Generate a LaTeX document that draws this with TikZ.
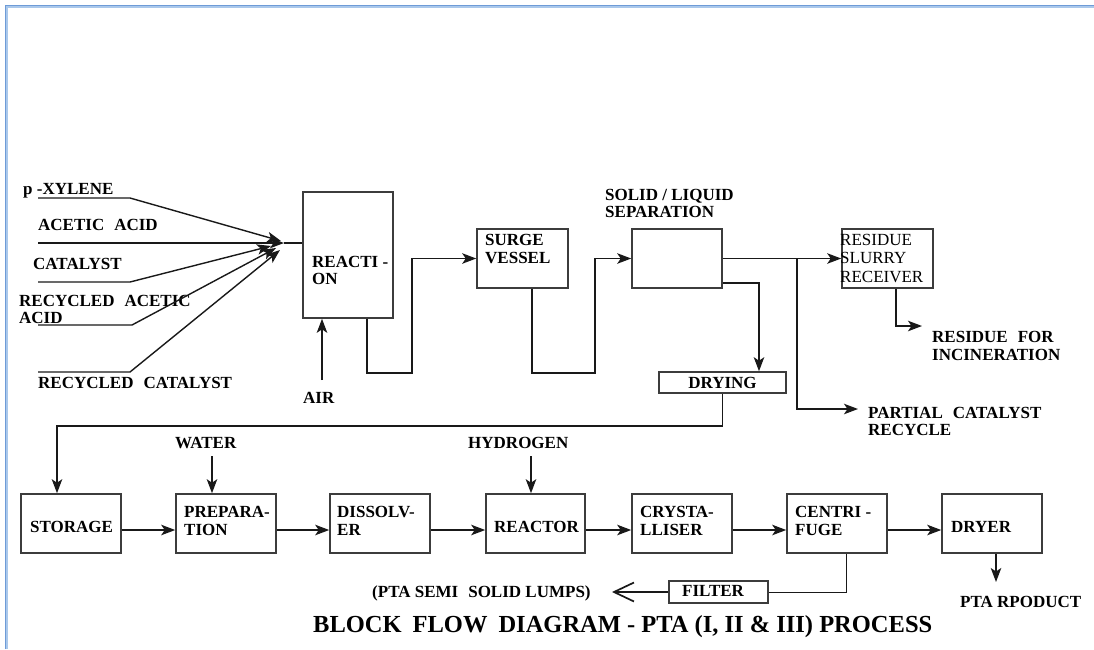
\documentclass[tikz,border=0pt]{standalone}
\usepackage{fontspec}
\setmainfont{Liberation Serif}
\usetikzlibrary{arrows.meta}
\definecolor{boxc}{RGB}{60,60,60}
\definecolor{linec}{RGB}{25,25,25}
\definecolor{framec}{RGB}{110,155,215}
\definecolor{framel}{RGB}{170,200,235}
\newcommand{\lblfont}{\fontsize{17pt}{17pt}\selectfont\bfseries}
\newcommand{\regfont}{\fontsize{17pt}{17pt}\selectfont}
\newcommand{\ttlfont}{\fontsize{24.5pt}{24.5pt}\selectfont\bfseries}
\newcommand{\wsp}{\hspace{10pt}}
\begin{document}
\begin{tikzpicture}[x=1pt,y=-1pt,
  box/.style={draw=boxc,line width=1.6pt,inner sep=0pt},
  lbl/.style={font=\lblfont,inner sep=0pt,anchor=base west,text=black},
  rlbl/.style={font=\regfont,inner sep=0pt,anchor=base west,text=black},
  ln/.style={draw=linec,line width=1.4pt},
  thin/.style={draw=linec,line width=1pt},
  arr/.style={ln,-{Stealth[length=14pt,width=10.5pt,inset=3.5pt]}},
  barb/.style={draw=linec,line width=1.7pt,-{Straight Barb[length=20pt,width=19pt]}}
]
\useasboundingbox (0,0) rectangle (1094,649);
\fill[white] (0,0) rectangle (1094,649);
\draw[framel,line width=3pt] (6,649) -- (6,6) -- (1094,6);
\draw[framec,line width=1pt] (5,649) -- (5,5) -- (1094,5);

% ---------- top row boxes
\node[box,minimum width=90pt,minimum height=126pt] (react) at (348,255) {};
\node[box,minimum width=91pt,minimum height=59pt] (surge) at (522.5,258.5) {};
\node[box,minimum width=90pt,minimum height=59pt] (sep) at (677,258.5) {};
\node[box,minimum width=91pt,minimum height=59pt] (resid) at (887.5,258.5) {};
\node[box,minimum width=127pt,minimum height=21pt,font=\lblfont] (drying) at (722.5,382.5) {DRYING};

% ---------- bottom row boxes
\node[box,minimum width=100pt,minimum height=59pt] (storage) at (71,523.5) {};
\node[box,minimum width=100pt,minimum height=59pt] (prep) at (226,523.5) {};
\node[box,minimum width=100pt,minimum height=59pt] (diss) at (380,523.5) {};
\node[box,minimum width=99pt,minimum height=59pt] (reactor) at (535.5,523.5) {};
\node[box,minimum width=100pt,minimum height=59pt] (cryst) at (682,523.5) {};
\node[box,minimum width=100pt,minimum height=59pt] (centr) at (837,523.5) {};
\node[box,minimum width=100pt,minimum height=59pt] (dryer) at (992,523.5) {};
\node[box,minimum width=99pt,minimum height=22pt] (filter) at (718.5,592) {};

% ---------- input labels
\node[lbl] (tx1) at (23,194.5) {p -XYLENE};
\node[lbl] (tx2) at (38,230.5) {ACETIC\wsp ACID};
\node[lbl] (tx3) at (33,269.5) {CATALYST};
\node[lbl] (tx4a) at (19,306.5) {RECYCLED\wsp ACETIC};
\node[lbl] (tx4b) at (19,323.5) {ACID};
\node[lbl] (tx5) at (38,388.5) {RECYCLED\wsp CATALYST};

% ---------- other labels
\node[lbl] (reactT1) at (312,267.5) {REACTI -};
\node[lbl] (reactT2) at (312,284.5) {ON};
\node[lbl] (airT) at (303,403.5) {AIR};
\node[lbl] (surgeT1) at (485,245.5) {SURGE};
\node[lbl] (surgeT2) at (485,263.5) {VESSEL};
\node[lbl] (sepT1) at (605,200.5) {SOLID / LIQUID};
\node[lbl] (sepT2) at (605,217.5) {SEPARATION};
\node[rlbl] (resT1) at (840,245.5) {RESIDUE};
\node[rlbl] (resT2) at (840,263.5) {SLURRY};
\node[rlbl] (resT3) at (840,282.5) {RECEIVER};
\node[lbl] (incT1) at (932,342.5) {RESIDUE\wsp FOR};
\node[lbl] (incT2) at (932,360.5) {INCINERATION};
\node[lbl] (pcrT1) at (868,418.5) {PARTIAL\wsp CATALYST};
\node[lbl] (pcrT2) at (868,435.5) {RECYCLE};

\node[lbl] (waterT) at (175,448.6) {WATER};
\node[lbl] (hydT) at (468,448.6) {HYDROGEN};
\node[lbl] (storT) at (30,532.6) {STORAGE};
\node[lbl] (prepT1) at (184,517.6) {PREPARA-};
\node[lbl] (prepT2) at (184,535.6) {TION};
\node[lbl] (dissT1) at (337,517.6) {DISSOLV-};
\node[lbl] (dissT2) at (337,535.6) {ER};
\node[lbl] (reacT) at (494,532.6) {REACTOR};
\node[lbl] (crysT1) at (640,517.6) {CRYSTA-};
\node[lbl] (crysT2) at (640,535.6) {LLISER};
\node[lbl] (centT1) at (795,517.6) {CENTRI -};
\node[lbl] (centT2) at (795,535.6) {FUGE};
\node[lbl] (dryerT) at (951,532.6) {DRYER};
\node[lbl] (filtT) at (682,596.6) {FILTER};
\node[lbl] (lumpsT) at (372,597.6) {(PTA SEMI\wsp SOLID LUMPS)};
\node[lbl] (prodT) at (960,607.6) {PTA RPODUCT};
\node[font=\ttlfont,inner sep=0pt,anchor=base west] (title) at (313,632.6) {BLOCK\hspace{11pt}FLOW\hspace{11pt}DIAGRAM - PTA (I, II \& III) PROCESS};

% ---------- input connectors
\coordinate (xylS) at (38,198);  \coordinate (xylT) at (281,241);
\coordinate (aceS) at (38,243);  \coordinate (hub) at (284,243);
\coordinate (catS) at (38,282);  \coordinate (catT) at (271,246);
\coordinate (raS) at (38,325);   \coordinate (raT) at (276,248);
\coordinate (rcS) at (38,372);   \coordinate (rcT) at (280,250);
\draw[arr] (xylS) -- ++(92,0) -- (xylT);
\draw[arr] (aceS) -- (hub);
\draw[ln] (hub) -- (hub -| react.west);
\draw[arr] (catS) -- ++(92,0) -- (catT);
\draw[arr] (raS) -- ++(94,0) -- (raT);
\draw[arr] (rcS) -- ++(92,0) -- (rcT);

\coordinate (airS) at (322,380);
\draw[arr] (airS) -- (airS |- react.south);

% ---------- top flow
\draw[arr] ([xshift=19pt]react.south) -- ++(0,54) -- ++(45,0) |- (surge.west);
\draw[arr] ([xshift=9.5pt]surge.south) -- ++(0,84) -- ++(63,0) |- (sep.west);
\draw[arr] (sep.east) -- (resid.west);
\coordinate (pcrE) at (858,409);
\draw[arr] ([xshift=74pt]sep.east) |- (pcrE);
\draw[arr] ([yshift=6pt]sep.south east) -| ([xshift=36.5pt]drying.north);
\coordinate (incE) at (922,326);
\draw[arr] ([xshift=8.5pt]resid.south) |- (incE);
\draw[arr] (drying.south) -- ++(0,32) -| ([xshift=-14pt]storage.north);

% ---------- bottom flow
\foreach \a/\b in {storage/prep,prep/diss,diss/reactor,reactor/cryst,cryst/centr,centr/dryer}
  \draw[arr] ([yshift=-6.5pt]\a.east) -- ([yshift=-6.5pt]\b.west);
\coordinate (watS) at (212,456);
\draw[arr] (watS) -- (watS |- prep.north);
\coordinate (hydS) at (531,456);
\draw[arr] (hydS) -- (hydS |- reactor.north);
\coordinate (prodE) at (996,582);
\draw[arr] (prodE |- dryer.south) -- (prodE);
\draw[thin] ([xshift=9pt]centr.south) |- (filter.east);
\coordinate (lumpsE) at (612,592);
\draw[barb] (filter.west) -- (lumpsE);
\end{tikzpicture}
\end{document}
